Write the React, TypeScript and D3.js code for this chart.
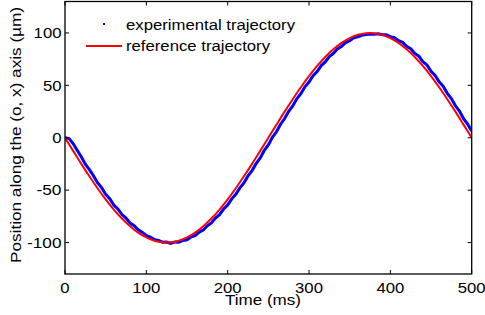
import React, { useEffect, useRef } from "react";
import * as d3 from "d3";

const refTimes = [0,10,20,30,40,50,60,70,80,90,100,110,120,130,140,150,160,170,180,190,200,210,220,230,240,250,260,270,280,290,300,310,320,330,340,350,360,370,380,390,400,410,420,430,440,450,460,470,480,490,500];
const refValues = [0,-12.5,-24.9,-36.8,-48.2,-58.8,-68.5,-77.1,-84.4,-90.5,-95.1,-98.2,-99.8,-99.8,-98.2,-95.1,-90.5,-84.4,-77.1,-68.5,-58.8,-48.2,-36.8,-24.9,-12.5,0,12.5,24.9,36.8,48.2,58.8,68.5,77.1,84.4,90.5,95.1,98.2,99.8,99.8,98.2,95.1,90.5,84.4,77.1,68.5,58.8,48.2,36.8,24.9,12.5,0];

const expTimes = [0,5,10,15,20,25,30,35,40,45,50,55,60,65,70,75,80,85,90,95,100,105,110,115,120,125,130,135,140,145,150,155,160,165,170,175,180,185,190,195,200,205,210,215,220,225,230,235,240,245,250,255,260,265,270,275,280,285,290,295,300,305,310,315,320,325,330,335,340,345,350,355,360,365,370,375,380,385,390,395,400,405,410,415,420,425,430,435,440,445,450,455,460,465,470,475,480,485,490,495,500];
const expValues = [0,-0.8,-5.5,-12.0,-18.2,-25.3,-30.5,-36.2,-42.9,-47.6,-53.9,-58.1,-64.2,-67.9,-73.3,-76.6,-81.4,-84.0,-87.9,-90.1,-93.3,-94.8,-97.2,-97.9,-99.6,-99.5,-100.8,-99.4,-99.6,-98.0,-97.3,-94.6,-93.4,-90.0,-88.0,-84.0,-81.3,-76.6,-73.4,-68.0,-64.1,-58.3,-54.0,-47.8,-43.1,-36.4,-31.3,-24.6,-19.2,-12.1,-6.9,0.4,5.7,12.9,18.3,25.3,30.4,37.1,42.1,48.6,53.1,59.2,63.2,68.9,72.4,77.5,80.4,84.8,87.2,90.8,92.6,95.4,96.4,97.8,98.4,98.9,98.8,99.2,98.3,98.2,96.5,95.5,92.6,91.0,87.2,85.0,80.5,77.8,72.5,69.5,63.4,59.4,53.3,49.1,42.4,37.4,30.5,25.4,18.2,13.0,6.5];

const xTicks = [0,100,200,300,400,500];
const yTicks = [-100,-50,0,50,100];
const legendLabels = ["experimental trajectory", "reference trajectory"];
const xLabel = "Time (ms)";
const yLabel = "Position along the (o, x) axis (\u00b5m)";

export default function App() {
  const ref = useRef<SVGSVGElement>(null);
  useEffect(() => {
    const L = 65, R = 471.7, T = 1.5, B = 274;
    const svg = d3.select(ref.current);
    svg.selectAll("*").remove();
    const x = d3.scaleLinear().domain([0, 500]).range([L, R]);
    const y = d3.scaleLinear().domain([-130, 130]).range([B, T]);
    const font = "Liberation Sans, Arial, sans-serif";
    const numW = (s: string) => s.replace("-", "").length * 9.3 + (s.startsWith("-") ? 6.5 : 0);

    const clipId = "plotclip";
    svg.append("clipPath").attr("id", clipId).append("rect")
      .attr("x", L).attr("y", T).attr("width", R - L).attr("height", B - T);

    const g = svg.append("g").attr("clip-path", `url(#${clipId})`);
    const expData = expTimes.map((t, i) => [t, expValues[i]] as [number, number]);
    const refData = refTimes.map((t, i) => [t, refValues[i]] as [number, number]);

    g.append("path")
      .attr("d", d3.line<[number, number]>().x(d => x(d[0])).y(d => y(d[1])).curve(d3.curveLinear)(expData) as string)
      .attr("fill", "none").attr("stroke", "#0000ff").attr("stroke-width", 3);
    g.append("path")
      .attr("d", d3.line<[number, number]>().x(d => x(d[0])).y(d => y(d[1])).curve(d3.curveCatmullRom)(refData) as string)
      .attr("fill", "none").attr("stroke", "#ff0000").attr("stroke-width", 2);

    svg.append("rect").attr("x", L).attr("y", T).attr("width", R - L).attr("height", B - T)
      .attr("fill", "none").attr("stroke", "#000").attr("stroke-width", 1.3);

    const tl = 4;
    xTicks.forEach(t => {
      const s = String(t);
      svg.append("line").attr("x1", x(t)).attr("x2", x(t)).attr("y1", B).attr("y2", B - tl).attr("stroke", "#000");
      svg.append("line").attr("x1", x(t)).attr("x2", x(t)).attr("y1", T).attr("y2", T + tl).attr("stroke", "#000");
      svg.append("text").attr("x", x(t)).attr("y", 292.7).attr("text-anchor", "middle")
        .attr("font-family", font).attr("font-size", 14.5)
        .attr("textLength", numW(s)).attr("lengthAdjust", "spacingAndGlyphs").text(s);
    });
    yTicks.forEach(t => {
      const s = String(t);
      svg.append("line").attr("x1", L).attr("x2", L + tl).attr("y1", y(t)).attr("y2", y(t)).attr("stroke", "#000");
      svg.append("line").attr("x1", R).attr("x2", R - tl).attr("y1", y(t)).attr("y2", y(t)).attr("stroke", "#000");
      svg.append("text").attr("x", 61.5).attr("y", y(t) + 5.2).attr("text-anchor", "end")
        .attr("font-family", font).attr("font-size", 14.5)
        .attr("textLength", numW(s)).attr("lengthAdjust", "spacingAndGlyphs").text(s);
    });

    svg.append("text").attr("x", 263).attr("y", 305).attr("text-anchor", "middle")
      .attr("font-family", font).attr("font-size", 15.5)
      .attr("textLength", 76).attr("lengthAdjust", "spacingAndGlyphs").text(xLabel);
    svg.append("text").attr("transform", "translate(21,135) rotate(-90)").attr("text-anchor", "middle")
      .attr("font-family", font).attr("font-size", 15.5)
      .attr("textLength", 256).attr("lengthAdjust", "spacingAndGlyphs").text(yLabel);

    svg.append("rect").attr("x", 103).attr("y", 23).attr("width", 2).attr("height", 2).attr("fill", "#0000ff");
    svg.append("line").attr("x1", 86).attr("x2", 122).attr("y1", 46).attr("y2", 46).attr("stroke", "#ff0000").attr("stroke-width", 2);
    svg.append("text").attr("x", 126).attr("y", 29.5).attr("font-family", font).attr("font-size", 15.5)
      .attr("textLength", 169).attr("lengthAdjust", "spacingAndGlyphs").text(legendLabels[0]);
    svg.append("text").attr("x", 126).attr("y", 51).attr("font-family", font).attr("font-size", 15.5)
      .attr("textLength", 144).attr("lengthAdjust", "spacingAndGlyphs").text(legendLabels[1]);
  }, []);
  return (
    <svg ref={ref} width={485} height={315} style={{ position: "fixed", left: 0, top: 0, background: "#fff" }} />
  );
}
